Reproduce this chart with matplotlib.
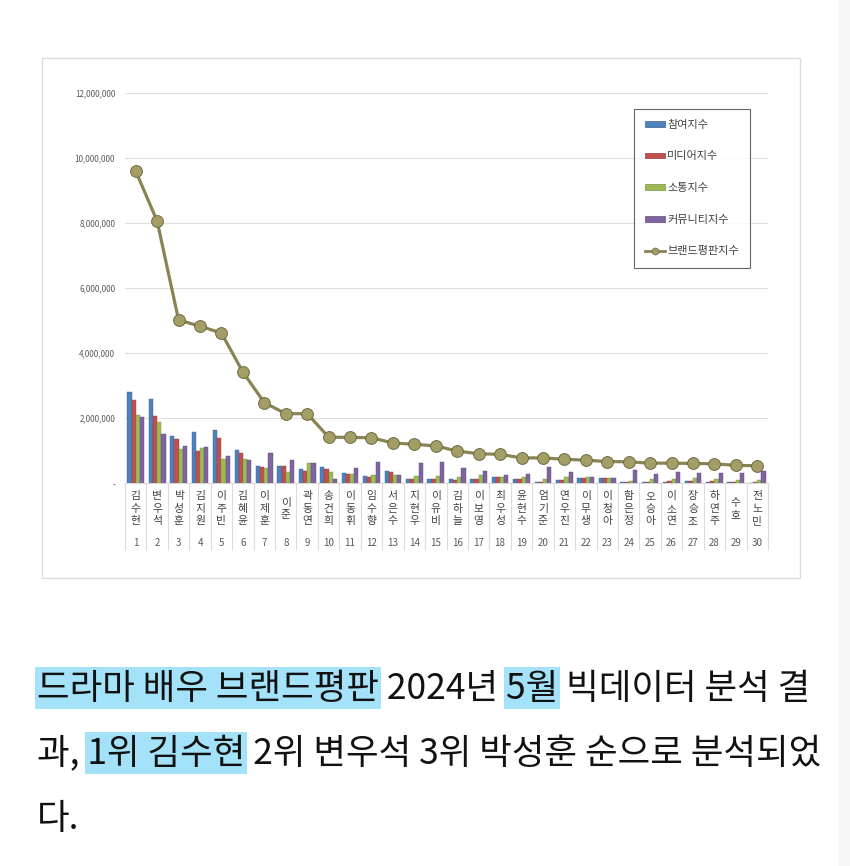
import matplotlib
matplotlib.use('Agg')
import matplotlib.pyplot as plt
import matplotlib.patches as patches
from matplotlib.lines import Line2D
import numpy as np

plt.rcParams['font.family'] = ['Noto Sans CJK KR', 'DejaVu Sans']

# ---- data ----
names = ['김수현', '변우석', '박성훈', '김지원', '이주빈', '김혜윤', '이제훈', '이준', '곽동연', '송건희',
         '이동휘', '임수향', '서은수', '지현우', '이유비', '김하늘', '이보영', '최우성', '윤현수', '엄기준',
         '연우진', '이무생', '이청아', '함은정', '오승아', '이소연', '장승조', '하연주', '수호', '전노민']
ranks = list(range(1, 31))

participation = [2.80, 2.58, 1.46, 1.59, 1.64, 1.02, 0.54, 0.54, 0.44, 0.49, 0.31, 0.21, 0.38, 0.14, 0.13,
                 0.13, 0.12, 0.20, 0.13, 0.03, 0.10, 0.16, 0.16, 0.04, 0.05, 0.05, 0.06, 0.05, 0.04, 0.02]
media = [2.56, 2.07, 1.35, 0.99, 1.40, 0.94, 0.49, 0.52, 0.39, 0.44, 0.29, 0.20, 0.36, 0.14, 0.13,
         0.11, 0.13, 0.20, 0.13, 0.05, 0.10, 0.16, 0.16, 0.05, 0.05, 0.06, 0.07, 0.06, 0.04, 0.03]
communication = [2.09, 1.88, 1.05, 1.08, 0.74, 0.75, 0.46, 0.36, 0.62, 0.34, 0.28, 0.26, 0.25, 0.21, 0.21,
                 0.20, 0.26, 0.20, 0.18, 0.14, 0.18, 0.18, 0.16, 0.08, 0.13, 0.13, 0.15, 0.14, 0.11, 0.09]
community = [2.04, 1.52, 1.14, 1.11, 0.84, 0.72, 0.94, 0.72, 0.63, 0.13, 0.47, 0.66, 0.25, 0.63, 0.64,
             0.46, 0.37, 0.26, 0.29, 0.50, 0.35, 0.19, 0.17, 0.40, 0.30, 0.35, 0.32, 0.31, 0.32, 0.39]
brand = [9.60, 8.06, 5.02, 4.83, 4.62, 3.42, 2.48, 2.14, 2.14, 1.42, 1.41, 1.40, 1.24, 1.20, 1.15,
         0.99, 0.91, 0.89, 0.78, 0.78, 0.74, 0.71, 0.67, 0.66, 0.62, 0.62, 0.61, 0.60, 0.55, 0.54]

series_labels = ['참여지수', '미디어지수', '소통지수', '커뮤니티지수']
line_label = '브랜드평판지수'
yticks = [0, 2000000, 4000000, 6000000, 8000000, 10000000, 12000000]

line1 = '드라마 배우 브랜드평판 2024년 5월 빅데이터 분석 결'
line2 = '과, 1위 김수현 2위 변우석 3위 박성훈 순으로 분석되었'
line3 = '다.'
highlights = [(0, '드라마 배우 브랜드평판'), (0, '5월'), (1, '1위 김수현')]

# ---- figure ----
W, H = 850, 866
fig = plt.figure(figsize=(W / 100, H / 100), dpi=100)
fig.patch.set_facecolor('white')

def px(x, y):
    return x / W, 1 - y / H

# chart frame
fx, fy = px(42, 578)
fig.patches.append(patches.Rectangle((fx, fy), 758 / W, 520 / H, transform=fig.transFigure,
                                     facecolor='white', edgecolor='#dcdcdc', lw=1, zorder=-2))
# right edge strip of the screenshot
fig.patches.append(patches.Rectangle((838 / W, 0), 12 / W, 1, transform=fig.transFigure,
                                     facecolor='#f7f7f7', edgecolor='none', zorder=-2))

left, bottom = px(125, 483.3)
ax = fig.add_axes([left, bottom, (768 - 125) / W, (483.3 - 93) / H])
ax.set_facecolor('none')
ax.set_zorder(1)

x = np.arange(len(names))
bw = 0.195
colors = ['#4F81BD', '#C0504D', '#9BBB59', '#8064A2']
edges = ['#3A6393', '#963C3A', '#76903F', '#5F4A7B']
for k, vals in enumerate([participation, media, communication, community]):
    ax.bar(x + (k - 1.5) * bw, np.array(vals) * 1e6, width=bw, color=colors[k],
           edgecolor=edges[k], linewidth=0.3, zorder=2)

ax.plot(x, np.array(brand) * 1e6, color='#8A8454', lw=2.3, marker='o', markersize=8.5,
        markerfacecolor='#A39E66', markeredgecolor='#6E6A42', markeredgewidth=0.7, zorder=3)

ax.set_xlim(-0.5, len(names) - 0.5)
ax.set_ylim(0, 12000000)
ax.set_yticks(yticks)
ax.set_yticklabels(['-' if v == 0 else f'{v:,}' for v in yticks])
ax.tick_params(axis='y', length=0, pad=7, labelsize=5.8, labelcolor='#595959')
ax.set_xticks([])
ax.yaxis.grid(True, color='#e0e0e0', lw=0.8)
ax.set_axisbelow(True)
for s in ['top', 'right', 'left']:
    ax.spines[s].set_visible(False)
ax.spines['bottom'].set_color('#d9d9d9')
ax.spines['bottom'].set_linewidth(0.8)

# category table under the axis
axh = 483.3 - 93
ax.vlines(np.arange(len(names) + 1) - 0.5, -67 / axh, 0, transform=ax.get_xaxis_transform(),
          colors='#dcdcdc', lw=0.8, clip_on=False)
for i, (n, r) in enumerate(zip(names, ranks)):
    ax.text(i, -25.5 / axh, '\n'.join(n), transform=ax.get_xaxis_transform(), ha='center', va='center',
            fontsize=7.8, color='#404040', linespacing=1.3)
    ax.text(i, -60 / axh, str(r), transform=ax.get_xaxis_transform(), ha='center', va='center',
            fontsize=7, color='#595959')

# legend
handles = [patches.Patch(facecolor=c, edgecolor=e, lw=0.5) for c, e in zip(colors, edges)]
handles.append(Line2D([], [], color='#8A8454', lw=2, marker='o', markersize=5,
                      markerfacecolor='#A39E66', markeredgecolor='#6E6A42', markeredgewidth=0.5))
leg = ax.legend(handles, series_labels + [line_label], loc='upper left',
                bbox_to_anchor=px(634, 108.7), bbox_transform=fig.transFigure, borderaxespad=0,
                fontsize=8, frameon=True, fancybox=False, edgecolor='#404040',
                handlelength=1.75, handleheight=0.38, handletextpad=0.22, labelspacing=1.95,
                borderpad=1.0)
leg.get_frame().set_linewidth(0.8)
for t in leg.get_texts():
    t.set_color('#404040')

# ---- article text with highlights ----
BODY_FS = 25.5
renderer = fig.canvas.get_renderer()

def text_w(s):
    t = fig.text(0, 0, s, fontsize=BODY_FS)
    w = t.get_window_extent(renderer).width
    t.remove()
    return w

lines = [line1, line2, line3]
baselines = [699, 764, 829]
x0 = 37
for li, sub in highlights:
    s = lines[li]
    j = s.index(sub) + len(sub)
    end = x0 + text_w(s[:j])
    start = end - text_w(sub)
    rx, ry = px(start - 2, baselines[li] + 10)
    fig.patches.append(patches.Rectangle((rx, ry), (end - start + 4) / W, 42 / H,
                                         transform=fig.transFigure, facecolor='#A3E2F9',
                                         edgecolor='none', zorder=1))
for s, yb in zip(lines, baselines):
    tx, ty = px(x0, yb)
    fig.text(tx, ty, s, fontsize=BODY_FS, color='#111111', ha='left', va='baseline', zorder=2)

fig.savefig('out.png', dpi=100)
